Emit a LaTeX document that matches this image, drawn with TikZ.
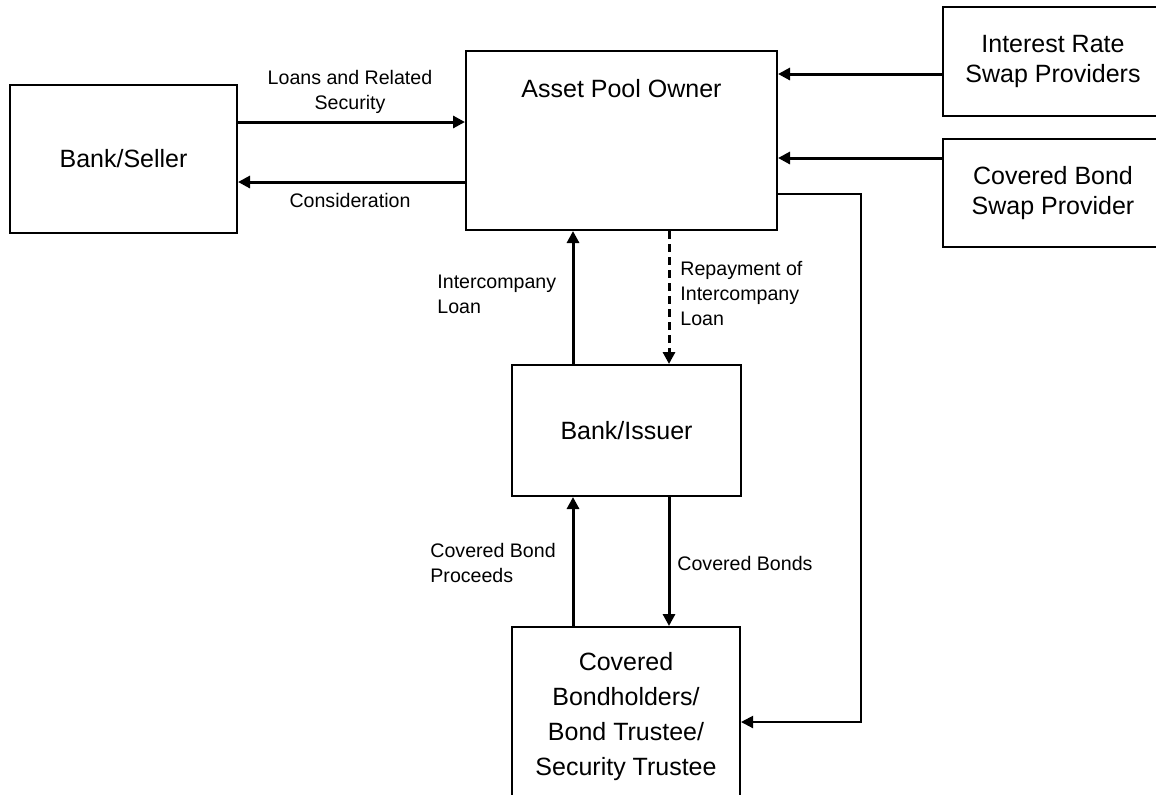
\documentclass[tikz,border=0pt]{standalone}
\usepackage{fontspec}
\setmainfont{Liberation Sans}
\usetikzlibrary{arrows.meta}

\tikzset{
	party/.style={draw, line width=1pt, inner sep=0pt, align=center, font=\fontsize{12.5}{15}\selectfont},
	flow/.style={line width=1.5pt, -{Triangle[length=6pt,width=6pt]}},
	flowlabel/.style={inner sep=0pt, font=\fontsize{9.8}{12.5}\selectfont}
}

\begin{document}
\begin{tikzpicture}[x=0.5pt,y=-0.5pt]
	\useasboundingbox (0,0) rectangle (1156,794);

	\node[party, minimum width=113.5pt, minimum height=74pt] (seller) at (123.5,159) {Bank/Seller};
	\node[party, minimum width=155.5pt, minimum height=89.5pt, label={[party, draw=none, anchor=north, yshift=-14pt]north:Asset Pool Owner}] (pool) at (621.5,140.5) {};
	\node[party, minimum width=110pt, minimum height=54.5pt] (irs) at (1053,61.5) {Interest Rate\\Swap Providers};
	\node[party, minimum width=110pt, minimum height=54pt] (cbs) at (1053,193) {Covered Bond\\Swap Provider};
	\node[party, minimum width=114.5pt, minimum height=65.5pt] (issuer) at (626.5,430.5) {Bank/Issuer};
	\node[party, minimum width=114pt, minimum height=90pt, font=\fontsize{12.5}{17.5}\selectfont] (holders) at (626,717) {Covered\\Bondholders/\\Bond Trustee/\\Security Trustee};

	\draw[flow] (seller.east |- 0,122) -- (pool.west |- 0,122);
	\draw[flow] (pool.west |- 0,182) -- (seller.east |- 0,182);
	\draw[flow] (irs.west |- 0,74) -- (pool.east |- 0,74);
	\draw[flow] (cbs.west |- 0,158) -- (pool.east |- 0,158);
	\draw[flow] (issuer.north -| 573,0) -- (pool.south -| 573,0);
	\draw[flow, dash pattern=on 4pt off 2.5pt] (pool.south -| 669,0) -- (issuer.north -| 669,0);
	\draw[flow] (holders.north -| 573,0) -- (issuer.south -| 573,0);
	\draw[flow] (issuer.south -| 669,0) -- (holders.north -| 669,0);

	\coordinate (loopA) at (861,194);
	\coordinate (loopB) at (861,722);
	\draw[line width=1pt, -{Triangle[length=6pt,width=6pt]}] (pool.east |- loopA) -- (loopA) -- (loopB) -- (holders.east |- loopB);

	\node[flowlabel, align=center] (loansLbl) at (350,92) {Loans and Related\\Security};
	\node[flowlabel] (considLbl) at (350,200) {Consideration};
	\node[flowlabel, align=left, anchor=west] (icLoanLbl) at (437,294) {Intercompany\\Loan};
	\node[flowlabel, align=left, anchor=west] (repayLbl) at (680,293) {Repayment of\\Intercompany\\Loan};
	\node[flowlabel, align=left, anchor=west] (proceedsLbl) at (430,563) {Covered Bond\\Proceeds};
	\node[flowlabel, anchor=west] (bondsLbl) at (677,563) {Covered Bonds};
\end{tikzpicture}
\end{document}
